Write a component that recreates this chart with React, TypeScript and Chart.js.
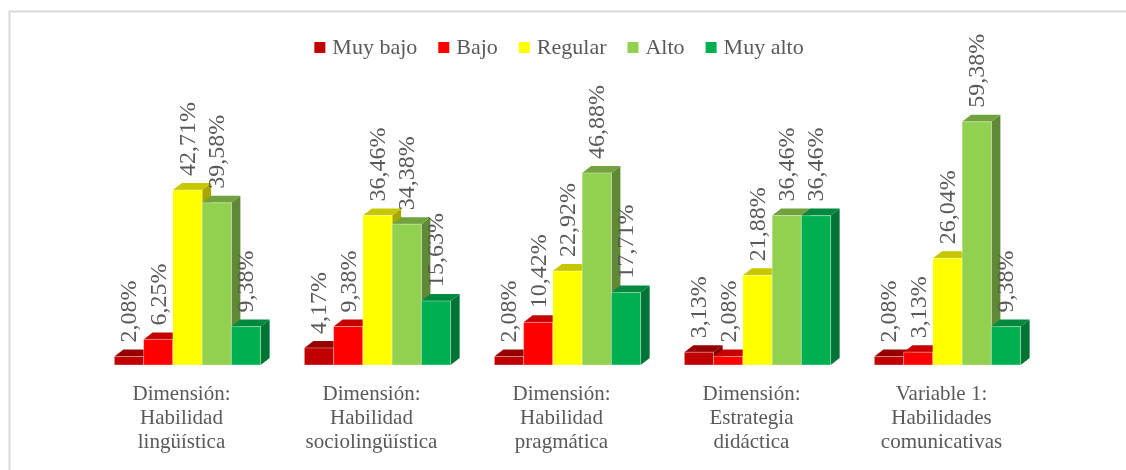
import React, { useEffect, useRef } from "react";
import { Chart, registerables } from "chart.js";

Chart.register(...registerables);

const categories: string[][] = [
  ["Dimensión:", "Habilidad", "lingüística"],
  ["Dimensión:", "Habilidad", "sociolingüística"],
  ["Dimensión:", "Habilidad", "pragmática"],
  ["Dimensión:", "Estrategia", "didáctica"],
  ["Variable 1:", "Habilidades", "comunicativas"],
];

const seriesNames = ["Muy bajo", "Bajo", "Regular", "Alto", "Muy alto"];

const muyBajo = [2.08, 4.17, 2.08, 3.13, 2.08];
const bajo = [6.25, 9.38, 10.42, 2.08, 3.13];
const regular = [42.71, 36.46, 22.92, 21.88, 26.04];
const alto = [39.58, 34.38, 46.88, 36.46, 59.38];
const muyAlto = [9.38, 15.63, 17.71, 36.46, 9.38];

const seriesValues = [muyBajo, bajo, regular, alto, muyAlto];
const seriesColors = ["#C00000", "#FF0000", "#FFFF00", "#92D050", "#00B050"];

const DX = 9;
const DY = 7;
const FONT = "'Liberation Serif', 'Times New Roman', serif";
const TEXT_COLOR = "#595959";

function shade(hex: string, f: number): string {
  const n = parseInt(hex.slice(1), 16);
  const r = Math.round(((n >> 16) & 255) * f);
  const g = Math.round(((n >> 8) & 255) * f);
  const b = Math.round((n & 255) * f);
  return `rgb(${r},${g},${b})`;
}

function fmt(v: number): string {
  return v.toFixed(2).replace(".", ",") + "%";
}

const bars3d = {
  id: "bars3d",
  beforeDatasetsDraw(chart: any) {
    const ctx: CanvasRenderingContext2D = chart.ctx;
    const nCat = chart.data.labels.length;
    const nDs = chart.data.datasets.length;
    const metas = Array.from({ length: nDs }, (_, i) => chart.getDatasetMeta(i));
    ctx.save();
    for (let c = 0; c < nCat; c++) {
      for (let d = 0; d < nDs; d++) {
        const el = metas[d].data[c];
        const { x, y, base, width } = el.getProps(["x", "y", "base", "width"], true);
        const x0 = x - width / 2;
        const x1 = x + width / 2;
        const col = seriesColors[d];
        // side face
        ctx.fillStyle = shade(col, 0.66);
        ctx.beginPath();
        ctx.moveTo(x1, y);
        ctx.lineTo(x1 + DX, y - DY);
        ctx.lineTo(x1 + DX, base - DY);
        ctx.lineTo(x1, base);
        ctx.closePath();
        ctx.fill();
        // top face
        ctx.fillStyle = shade(col, 0.78);
        ctx.beginPath();
        ctx.moveTo(x0, y);
        ctx.lineTo(x1, y);
        ctx.lineTo(x1 + DX, y - DY);
        ctx.lineTo(x0 + DX, y - DY);
        ctx.closePath();
        ctx.fill();
        // front face
        ctx.fillStyle = col;
        ctx.fillRect(x0, y, width, base - y);
        ctx.strokeStyle = "rgba(255,255,255,0.35)";
        ctx.lineWidth = 1;
        ctx.strokeRect(x0, y, width, base - y);
      }
    }
    // value labels
    ctx.fillStyle = TEXT_COLOR;
    ctx.font = `24px ${FONT}`;
    ctx.textAlign = "left";
    ctx.textBaseline = "middle";
    for (let d = 0; d < nDs; d++) {
      for (let c = 0; c < nCat; c++) {
        const el = metas[d].data[c];
        const { x, y } = el.getProps(["x", "y"], true);
        ctx.save();
        ctx.translate(x + 1, y - 14);
        ctx.rotate(-Math.PI / 2);
        ctx.fillText(fmt(chart.data.datasets[d].data[c]), 0, 0);
        ctx.restore();
      }
    }
    ctx.restore();
    return false;
  },
  afterDraw(chart: any) {
    const ctx: CanvasRenderingContext2D = chart.ctx;
    ctx.save();
    // frame
    ctx.strokeStyle = "#d9d9d9";
    ctx.lineWidth = 2;
    ctx.beginPath();
    ctx.moveTo(9.5, 480);
    ctx.lineTo(9.5, 11.5);
    ctx.lineTo(1130, 11.5);
    ctx.stroke();

    // legend
    ctx.font = `22px ${FONT}`;
    ctx.textBaseline = "middle";
    ctx.textAlign = "left";
    const box = 11;
    const gapBoxText = 7;
    const gapItems = 21;
    const widths = seriesNames.map((s) => ctx.measureText(s).width);
    const total =
      widths.reduce((a, w) => a + box + gapBoxText + w, 0) + gapItems * (seriesNames.length - 1);
    let lx = 559 - total / 2;
    const ly = 47.5;
    seriesNames.forEach((s, i) => {
      ctx.fillStyle = seriesColors[i];
      ctx.fillRect(lx, ly - box / 2, box, box);
      ctx.fillStyle = TEXT_COLOR;
      ctx.fillText(s, lx + box + gapBoxText, ly + 1);
      lx += box + gapBoxText + widths[i] + gapItems;
    });

    // category labels
    const xs = chart.scales.x;
    ctx.font = `21px ${FONT}`;
    ctx.textAlign = "center";
    ctx.textBaseline = "alphabetic";
    ctx.fillStyle = TEXT_COLOR;
    categories.forEach((lines, i) => {
      const cx = xs.getPixelForValue(i) - 6;
      lines.forEach((ln, j) => {
        ctx.fillText(ln, cx, 400 + j * 24);
      });
    });
    ctx.restore();
  },
};

export default function App() {
  const ref = useRef<HTMLCanvasElement | null>(null);
  useEffect(() => {
    if (!ref.current) return;
    const chart = new Chart(ref.current, {
      type: "bar",
      data: {
        labels: categories.map((l) => l.join(" ")),
        datasets: seriesNames.map((name, i) => ({
          label: name,
          data: seriesValues[i],
          backgroundColor: seriesColors[i],
          barPercentage: 1,
          categoryPercentage: 0.77,
        })),
      },
      options: {
        responsive: false,
        animation: false,
        devicePixelRatio: 1,
        layout: { padding: { left: 92.5, right: 83.5, top: 78.2, bottom: 105 } },
        plugins: { legend: { display: false }, tooltip: { enabled: false } },
        scales: {
          x: { display: false, grid: { display: false } },
          y: { display: false, min: 0, max: 70, grid: { display: false } },
        },
      },
      plugins: [bars3d],
    });
    return () => chart.destroy();
  }, []);
  return (
    <div style={{ position: "fixed", left: 0, top: 0, width: 1126, height: 470, background: "#fff" }}>
      <canvas ref={ref} width={1126} height={470} />
    </div>
  );
}
